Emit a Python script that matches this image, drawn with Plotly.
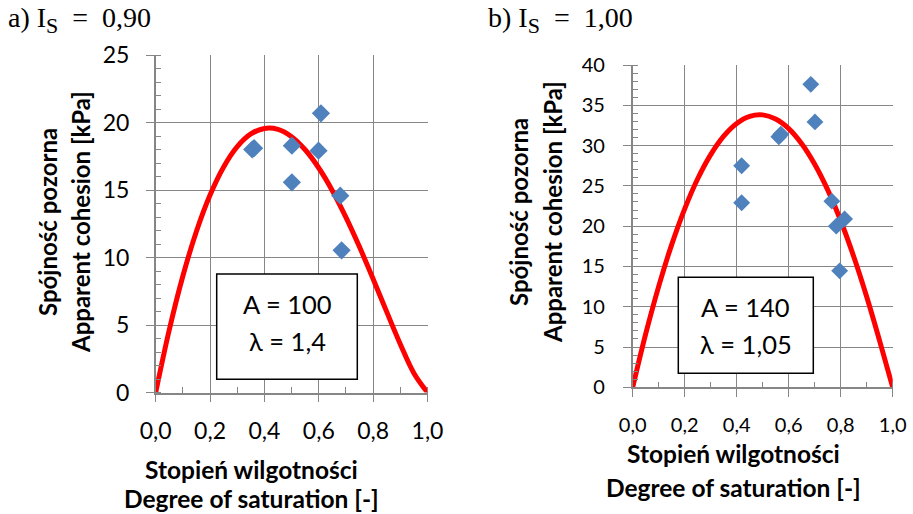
import plotly.graph_objects as go

# ---- data ----
curve_x = [0.0, 0.05, 0.1, 0.15, 0.2, 0.25, 0.3, 0.35, 0.4, 0.45, 0.5,
           0.55, 0.6, 0.65, 0.7, 0.75, 0.8, 0.85, 0.9, 0.95, 1.0]
curve_a_y = [0.0, 4.65, 8.63, 11.95, 14.63, 16.71, 18.21, 19.15, 19.56, 19.49, 18.95,
             17.98, 16.63, 14.95, 12.97, 10.77, 8.41, 5.97, 3.58, 1.43, 0.0]
curve_b_y = [0.0, 6.63, 12.53, 17.71, 22.15, 25.88, 28.88, 31.17, 32.75, 33.63, 33.81,
             33.29, 32.10, 30.22, 27.68, 24.50, 20.67, 16.23, 11.23, 5.73, 0.0]

pts_a_x = [0.355, 0.362, 0.501, 0.501, 0.608, 0.599, 0.679, 0.684]
pts_a_y = [18.0, 18.1, 18.28, 15.57, 20.68, 17.91, 14.58, 10.53]

pts_b_x = [0.685, 0.701, 0.562, 0.570, 0.419, 0.419, 0.766, 0.783, 0.815, 0.796]
pts_b_y = [37.6, 32.94, 31.1, 31.4, 27.5, 22.9, 23.1, 20.0, 20.9, 14.45]

x_ticks = [0.0, 0.2, 0.4, 0.6, 0.8, 1.0]

SUB_S = '<sub><span style="font-size:22px">S</span></sub>'
title_a = "a) I" + SUB_S + "\u2002=\u20020,90"
title_b = "b) I" + SUB_S + "\u2002=\u20021,00"
box_a = ["A = 100", "λ = 1,4"]
box_b = ["A = 140", "λ = 1,05"]
ytitle = ["Spójność pozorna", "Apparent cohesion [kPa]"]
xtitle = ["Stopień wilgotności", "Degree of saturation [-]"]

W, H = 913, 514
GRID = "#868686"
RED = "#FF0000"
BLUE = "#4F81BD"
FONT = "Lato"


def px(x):
    return x / W


def py(y):
    return 1 - y / H


fig = go.Figure()

fig.add_trace(go.Scatter(x=curve_x, y=curve_a_y, mode="lines", line=dict(color=RED, width=5, shape="spline"),
                         xaxis="x", yaxis="y", showlegend=False, hoverinfo="skip"))
fig.add_trace(go.Scatter(x=pts_a_x, y=pts_a_y, mode="markers",
                         marker=dict(symbol="diamond", size=14, color=BLUE),
                         xaxis="x", yaxis="y", showlegend=False, cliponaxis=False))
fig.add_trace(go.Scatter(x=curve_x, y=curve_b_y, mode="lines", line=dict(color=RED, width=5, shape="spline"),
                         xaxis="x2", yaxis="y2", showlegend=False, hoverinfo="skip"))
fig.add_trace(go.Scatter(x=pts_b_x, y=pts_b_y, mode="markers",
                         marker=dict(symbol="diamond", size=13, color=BLUE),
                         xaxis="x2", yaxis="y2", showlegend=False, cliponaxis=False))


def xaxis_cfg(domain, anchor, fsize, standoff):
    return dict(domain=domain, anchor=anchor, range=[0, 1], tickvals=x_ticks, tickformat=".1f",
                showgrid=True, gridcolor=GRID, gridwidth=1.3, zeroline=False, automargin=False,
                showline=True, linecolor=GRID, linewidth=1.5,
                ticks="outside", ticklen=8, tickcolor=GRID, tickwidth=1.3,
                minor=dict(dtick=0.1, ticks="inside", ticklen=6, tickcolor=GRID, tickwidth=1.3, showgrid=False),
                tickfont=dict(family=FONT, size=fsize, color="#000"), ticklabelstandoff=standoff,
                fixedrange=True)


def yaxis_cfg(domain, anchor, rmax, fsize, standoff):
    return dict(domain=domain, anchor=anchor, range=[0, rmax], dtick=5,
                showgrid=True, gridcolor=GRID, gridwidth=1.3, zeroline=False, automargin=False,
                showline=True, linecolor=GRID, linewidth=1.5,
                ticks="outside", ticklen=8, tickcolor=GRID, tickwidth=1.3,
                minor=dict(dtick=1, ticks="inside", ticklen=6, tickcolor=GRID, tickwidth=1.3, showgrid=False),
                tickfont=dict(family=FONT, size=fsize, color="#000"), ticklabelstandoff=standoff,
                fixedrange=True)


fig.update_layout(
    template="none",
    width=W, height=H, margin=dict(l=0, r=0, t=0, b=0, autoexpand=False),
    paper_bgcolor="white", plot_bgcolor="white", separators=", ",
    xaxis=xaxis_cfg([px(155.7), px(427.5)], "y", 23, 9),
    yaxis=yaxis_cfg([py(392.5), py(55)], "x", 25, 23, 12),
    xaxis2=xaxis_cfg([px(632.7), px(892.7)], "y2", 20, 11),
    yaxis2=yaxis_cfg([py(387.3), py(65)], "x2", 40, 20, 14),
)

ann = []
shapes = []
# panel titles
tt_font = dict(family="Liberation Serif", size=28, color="#000")
ann.append(dict(text=title_a, x=px(6), y=py(20), xref="paper", yref="paper", xanchor="left", yanchor="middle",
                showarrow=False, font=tt_font))
ann.append(dict(text=title_b, x=px(486), y=py(20), xref="paper", yref="paper", xanchor="left", yanchor="middle",
                showarrow=False, font=tt_font))

yfont = dict(family=FONT, size=24, color="#000", weight="bold")
xfont = dict(family=FONT, size=24.5, color="#000", weight="bold")
# y titles
for (x1, x2, yc) in [(47, 80, 222), (518, 552, 212)]:
    ann.append(dict(text=ytitle[0], x=px(x1), y=py(yc), xref="paper", yref="paper", textangle=-90,
                    xanchor="center", yanchor="middle", showarrow=False, font=yfont))
    ann.append(dict(text=ytitle[1], x=px(x2), y=py(yc), xref="paper", yref="paper", textangle=-90,
                    xanchor="center", yanchor="middle", showarrow=False, font=yfont))
# x titles
for (xc, y1, y2) in [(251, 469, 498), (733, 453, 487)]:
    ann.append(dict(text=xtitle[0], x=px(xc), y=py(y1), xref="paper", yref="paper",
                    xanchor="center", yanchor="middle", showarrow=False, font=xfont))
    ann.append(dict(text=xtitle[1], x=px(xc), y=py(y2), xref="paper", yref="paper",
                    xanchor="center", yanchor="middle", showarrow=False, font=xfont))

# parameter boxes
bfont = dict(family=FONT, size=25.5, color="#000")
for (x0, x1, y0, y1, lines, ly1, ly2) in [(216.7, 357.3, 274, 379.3, box_a, 304, 341),
                                           (678.3, 813.3, 277.3, 373.3, box_b, 307, 344)]:
    shapes.append(dict(type="rect", xref="paper", yref="paper", x0=px(x0), x1=px(x1), y0=py(y1), y1=py(y0),
                       line=dict(color="#000", width=1.5), fillcolor="white", layer="above"))
    xc = (x0 + x1) / 2
    ann.append(dict(text=lines[0], x=px(xc), y=py(ly1), xref="paper", yref="paper",
                    xanchor="center", yanchor="middle", showarrow=False, font=bfont))
    ann.append(dict(text=lines[1], x=px(xc), y=py(ly2), xref="paper", yref="paper",
                    xanchor="center", yanchor="middle", showarrow=False, font=bfont))

fig.update_layout(annotations=ann, shapes=shapes)
fig.write_html("out.html", config={"displayModeBar": False},
               post_script="document.body.style.margin='0';document.body.style.overflow='hidden';")
